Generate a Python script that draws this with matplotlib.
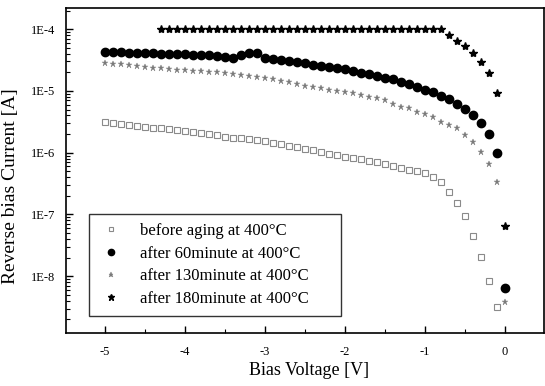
import numpy as np
import matplotlib
matplotlib.use('Agg')
import matplotlib.pyplot as plt
from matplotlib.ticker import FixedLocator, LogLocator, NullFormatter


# bias voltage grids (0.1 V steps)
v_before = np.round(np.arange(-5.0, -0.05, 0.1), 1)
v_60 = np.round(np.arange(-5.0, 0.05, 0.1), 1)
v_130 = np.round(np.arange(-5.0, 0.05, 0.1), 1)
v_180 = np.round(np.arange(-4.3, 0.05, 0.1), 1)

# reverse bias current [A]
i_before = [3.16e-6, 3.05e-6, 2.95e-6, 2.85e-6, 2.72e-6, 2.62e-6, 2.55e-6, 2.48e-6, 2.40e-6, 2.33e-6,
            2.27e-6, 2.17e-6, 2.08e-6, 1.99e-6, 1.90e-6, 1.82e-6, 1.76e-6, 1.70e-6, 1.65e-6, 1.60e-6,
            1.55e-6, 1.46e-6, 1.38e-6, 1.30e-6, 1.23e-6, 1.16e-6, 1.09e-6, 1.03e-6, 9.7e-7, 9.1e-7,
            8.6e-7, 8.2e-7, 7.8e-7, 7.4e-7, 7.0e-7, 6.65e-7, 6.2e-7, 5.7e-7, 5.3e-7, 5.0e-7,
            4.78e-7, 4.1e-7, 3.3e-7, 2.35e-7, 1.56e-7, 9.3e-8, 4.5e-8, 2.05e-8, 8.3e-9, 3.2e-9]
i_60 = [4.25e-5, 4.2e-5, 4.2e-5, 4.15e-5, 4.1e-5, 4.1e-5, 4.05e-5, 4.0e-5, 4.0e-5, 3.95e-5,
        3.9e-5, 3.85e-5, 3.8e-5, 3.75e-5, 3.65e-5, 3.55e-5, 3.45e-5, 3.8e-5, 4.15e-5, 4.05e-5,
        3.45e-5, 3.3e-5, 3.17e-5, 3.05e-5, 2.93e-5, 2.79e-5, 2.67e-5, 2.56e-5, 2.45e-5, 2.35e-5,
        2.27e-5, 2.12e-5, 1.98e-5, 1.85e-5, 1.74e-5, 1.62e-5, 1.56e-5, 1.40e-5, 1.30e-5, 1.16e-5,
        1.04e-5, 9.6e-6, 8.3e-6, 7.4e-6, 6.2e-6, 5.1e-6, 4.1e-6, 3.05e-6, 2.04e-6, 1.0e-6,
        6.4e-9]
i_130 = [2.83e-5, 2.75e-5, 2.68e-5, 2.6e-5, 2.52e-5, 2.44e-5, 2.38e-5, 2.32e-5, 2.27e-5, 2.22e-5,
         2.18e-5, 2.13e-5, 2.08e-5, 2.03e-5, 1.99e-5, 1.95e-5, 1.88e-5, 1.81e-5, 1.74e-5, 1.68e-5,
         1.62e-5, 1.53e-5, 1.45e-5, 1.37e-5, 1.28e-5, 1.2e-5, 1.15e-5, 1.1e-5, 1.05e-5, 1.0e-5,
         9.6e-6, 9.1e-6, 8.6e-6, 8.1e-6, 7.6e-6, 7.2e-6, 6.2e-6, 5.5e-6, 5.3e-6, 4.6e-6,
         4.3e-6, 3.8e-6, 3.16e-6, 2.8e-6, 2.5e-6, 1.94e-6, 1.5e-6, 1.04e-6, 6.6e-7, 3.3e-7,
         3.8e-9]
i_180 = [1.0e-4, 1.0e-4, 1.0e-4, 1.0e-4, 1.0e-4, 1.0e-4, 1.0e-4, 1.0e-4, 1.0e-4, 1.0e-4,
         1.0e-4, 1.0e-4, 1.0e-4, 1.0e-4, 1.0e-4, 1.0e-4, 1.0e-4, 1.0e-4, 1.0e-4, 1.0e-4,
         1.0e-4, 1.0e-4, 1.0e-4, 1.0e-4, 1.0e-4, 1.0e-4, 1.0e-4, 1.0e-4, 1.0e-4, 1.0e-4,
         1.0e-4, 1.0e-4, 1.0e-4, 1.0e-4, 1.0e-4, 1.0e-4,
         7.9e-5, 6.5e-5, 5.4e-5, 4.1e-5, 2.95e-5, 1.95e-5, 9.3e-6, 6.6e-8]

labels = ['before aging at 400°C', 'after 60minute at 400°C',
          'after 130minute at 400°C', 'after 180minute at 400°C']
x_ticks = [-5, -4, -3, -2, -1, 0]
y_ticks = [1e-8, 1e-7, 1e-6, 1e-5, 1e-4]
y_ticklabels = ['1E-8', '1E-7', '1E-6', '1E-5', '1E-4']

plt.rcParams['font.family'] = ['Liberation Serif', 'DejaVu Serif']

fig = plt.figure(figsize=(5.45, 3.86), dpi=100)
ax = fig.add_axes([0.121, 0.137, 0.877, 0.842])

ax.plot(v_before, i_before, ls='none', marker='s', ms=4, mfc='white', mec='#8a8a8a', mew=0.8, label=labels[0])
ax.plot(v_60, i_60, ls='none', marker='o', ms=6, color='black', label=labels[1])
ax.plot(v_130, i_130, ls='none', marker='*', ms=5, color='#7a7a7a', mew=0.3, label=labels[2])
ax.plot(v_180, i_180, ls='none', marker='*', ms=6, color='black', label=labels[3])

ax.set_yscale('log')
ax.set_xlim(-5.49, 0.49)
ax.set_ylim(10 ** -8.92, 10 ** -3.66)

ax.xaxis.set_major_locator(FixedLocator(x_ticks))
ax.xaxis.set_minor_locator(FixedLocator([-5.5, -4.5, -3.5, -2.5, -1.5, -0.5]))
ax.set_xticklabels([str(t) for t in x_ticks])
ax.yaxis.set_major_locator(FixedLocator(y_ticks))
ax.yaxis.set_minor_locator(LogLocator(base=10, subs=np.arange(2, 10), numticks=20))
ax.yaxis.set_minor_formatter(NullFormatter())
ax.set_yticklabels(y_ticklabels)

ax.tick_params(which='both', direction='in', top=False, right=False, labelsize=9)
ax.tick_params(which='major', length=5, width=1)
ax.tick_params(which='minor', length=3, width=0.8)
ax.tick_params(axis='y', pad=8)
ax.tick_params(axis='x', pad=9)
for sp in ax.spines.values():
    sp.set_linewidth(1.2)

ax.set_xlabel('Bias Voltage [V]', fontsize=13)
ax.xaxis.set_label_coords(0.508, -0.088)
ax.set_ylabel('Reverse bias Current [A]', fontsize=14)
ax.yaxis.set_label_coords(-0.098, 0.452)

leg = ax.legend(loc='lower left', bbox_to_anchor=(0.048, 0.052, 0.527, 0.32), mode='expand',
                borderaxespad=0., fancybox=False, frameon=True, fontsize=12, handletextpad=0.9,
                labelspacing=0.4, borderpad=0.55, handlelength=1.6, markerscale=0.75)
leg.get_frame().set_edgecolor('black')
leg.get_frame().set_linewidth(1.0)

plt.savefig('out.png', dpi=100)
